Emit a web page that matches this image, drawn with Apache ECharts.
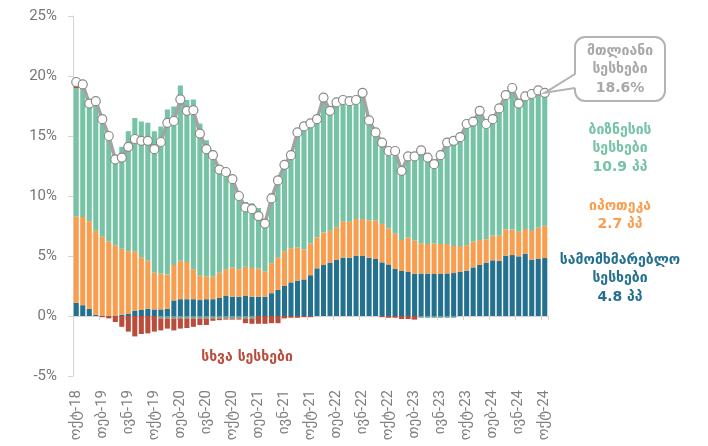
<!DOCTYPE html>
<html>
<head>
<meta charset="utf-8">
<script src="https://cdn.jsdelivr.net/npm/echarts@6/dist/echarts.min.js"></script>
<style>
  html, body { margin: 0; padding: 0; background: #fff; }
  #chart { width: 708px; height: 446px; }
</style>
</head>
<body>
<div id="chart"></div>
<script>
  // categories: oct-18 .. oct-24
  var months = [
    'ოქტ-18', 'ნოე-18', 'დეკ-18',
    'იან-19', 'თებ-19', 'მარ-19', 'აპრ-19', 'მაი-19', 'ივნ-19', 'ივლ-19', 'აგვ-19', 'სექ-19', 'ოქტ-19', 'ნოე-19', 'დეკ-19',
    'იან-20', 'თებ-20', 'მარ-20', 'აპრ-20', 'მაი-20', 'ივნ-20', 'ივლ-20', 'აგვ-20', 'სექ-20', 'ოქტ-20', 'ნოე-20', 'დეკ-20',
    'იან-21', 'თებ-21', 'მარ-21', 'აპრ-21', 'მაი-21', 'ივნ-21', 'ივლ-21', 'აგვ-21', 'სექ-21', 'ოქტ-21', 'ნოე-21', 'დეკ-21',
    'იან-22', 'თებ-22', 'მარ-22', 'აპრ-22', 'მაი-22', 'ივნ-22', 'ივლ-22', 'აგვ-22', 'სექ-22', 'ოქტ-22', 'ნოე-22', 'დეკ-22',
    'იან-23', 'თებ-23', 'მარ-23', 'აპრ-23', 'მაი-23', 'ივნ-23', 'ივლ-23', 'აგვ-23', 'სექ-23', 'ოქტ-23', 'ნოე-23', 'დეკ-23',
    'იან-24', 'თებ-24', 'მარ-24', 'აპრ-24', 'მაი-24', 'ივნ-24', 'ივლ-24', 'აგვ-24', 'სექ-24', 'ოქტ-24'
  ];

  // სამომხმარებლო სესხები
  var consumer = [
    1.1, 0.9, 0.6, 0.1, 0, 0, 0, 0.1, 0.2, 0.45, 0.5, 0.6, 0.55, 0.55, 0.6,
    1.3, 1.4, 1.4, 1.4, 1.33, 1.4, 1.4, 1.5, 1.67, 1.6, 1.6, 1.67,
    1.6, 1.6, 1.6, 1.9, 2.17, 2.5, 2.8, 2.95, 3.05, 3.4, 3.97, 4.25,
    4.45, 4.67, 4.86, 4.86, 5.03, 5.0, 4.86, 4.75, 4.47, 4.3, 3.92, 3.75,
    3.67, 3.53, 3.53, 3.53, 3.5, 3.5, 3.55, 3.58, 3.7, 3.78, 4.05, 4.25,
    4.45, 4.64, 4.6, 5.03, 5.08, 4.97, 5.2, 4.7, 4.75, 4.83
  ];
  // იპოთეკა
  var mortgage = [
    7.2, 7.35, 7.3, 7.0, 6.6, 6.2, 5.9, 5.5, 5.2, 4.95, 4.4, 4.0, 3.05, 3.0, 2.85,
    2.95, 3.2, 3.1, 2.5, 2.07, 1.9, 1.9, 2.1, 2.23, 2.45, 2.3, 2.43,
    2.4, 2.35, 2.1, 2.5, 2.68, 2.9, 2.85, 2.75, 2.5, 2.65, 2.58, 2.7,
    2.65, 2.73, 3.04, 2.99, 3.05, 3.08, 3.11, 3.22, 3.2, 3.0, 2.94, 2.58,
    2.86, 2.75, 2.52, 2.47, 2.55, 2.5, 2.45, 2.25, 2.13, 2.12, 2.15, 2.08,
    1.95, 2.06, 2.1, 2.19, 2.14, 2.06, 2.05, 2.38, 2.61, 2.7
  ];
  // ბიზნესის სესხები
  var business = [
    10.7, 10.65, 9.84, 10.76, 9.8, 8.95, 7.35, 8.5, 10.0, 11.1, 11.3, 11.5, 11.8, 12.25, 13.75,
    13.2, 14.6, 13.5, 14.15, 12.65, 11.35, 10.5, 8.85, 8.3, 7.45, 6.2, 5.4,
    5.4, 5.05, 4.4, 5.8, 6.75, 7.4, 7.95, 9.7, 10.35, 10.0, 9.85, 11.05,
    10.0, 10.4, 10.1, 10.05, 9.92, 10.52, 8.33, 7.33, 6.88, 6.6, 7.04, 6.02,
    7.02, 7.32, 7.75, 7.2, 6.6, 7.4, 8.45, 8.77, 9.07, 10.1, 10.0, 10.77,
    9.6, 9.7, 10.6, 11.18, 11.78, 10.67, 11.05, 11.42, 11.44, 10.9
  ];
  // მცირე უარყოფითი ნაწილი
  var minor = [
    0, 0, 0, 0, 0, 0, 0, 0, 0, 0, 0, 0, 0, -0.2, -0.2,
    -0.2, -0.2, -0.2, -0.2, -0.2, -0.2, -0.2, -0.2, -0.2, -0.2, -0.2, -0.2,
    -0.2, 0, 0, 0, 0, 0, 0, 0, 0, 0, 0, 0,
    0, 0, 0, 0, 0, 0, 0, 0, 0, 0, 0, 0,
    0, 0, -0.15, -0.15, -0.15, -0.15, -0.15, -0.15, 0, 0, 0, 0,
    0, 0, 0, 0, 0, 0, 0, 0, 0, 0
  ];
  // სხვა სესხები
  var other = [
    0.2, 0.15, 0, 0, -0.1, -0.2, -0.5, -0.9, -1.3, -1.7, -1.5, -1.45, -1.3, -1.0, -0.85,
    -1.0, -0.85, -0.8, -0.7, -0.55, -0.55, -0.2, -0.15, -0.1, -0.1, -0.1, -0.4,
    -0.45, -0.65, -0.65, -0.6, -0.6, -0.2, -0.15, -0.15, -0.1, -0.1, 0, 0,
    0, 0, 0, 0, 0, 0, 0, 0, -0.1, -0.15, -0.15, -0.25,
    -0.25, -0.3, 0, 0, 0, 0, 0, 0, 0, 0, 0, 0,
    0, 0, 0, 0, 0, 0, 0, 0, 0, 0
  ];
  // მთლიანი სესხები
  var total = [
    19.5, 19.3, 17.7, 17.9, 16.4, 15.0, 13.05, 13.2, 14.1, 14.75, 14.6, 14.6, 13.9, 14.5, 16.1,
    16.25, 18.05, 17.1, 17.15, 15.2, 13.9, 13.4, 12.2, 12.0, 11.4, 10.0, 9.05,
    8.9, 8.33, 7.7, 9.8, 11.3, 12.6, 13.4, 15.3, 15.8, 16.05, 16.4, 18.2,
    17.1, 17.8, 18.0, 17.9, 18.0, 18.6, 16.3, 15.3, 14.45, 13.75, 13.75, 12.1,
    13.3, 13.3, 13.8, 13.2, 12.65, 13.4, 14.45, 14.6, 14.9, 16.0, 16.2, 17.1,
    16.0, 16.4, 17.3, 18.4, 19.0, 17.7, 18.3, 18.5, 18.8, 18.6
  ];

  var colors = {
    consumer: '#23708f',
    mortgage: '#f99d4e',
    business: '#76c3a6',
    minor: '#6fa39a',
    other: '#b84c3d',
    total: '#a3a3a3'
  };

  var chart = echarts.init(document.getElementById('chart'));
  var last = total.length - 1;
  var geo = '"DejaVu Sans", "Noto Sans", sans-serif';

  function barSeries(name, data, color) {
    return {
      name: name,
      type: 'bar',
      stack: 'loans',
      xAxisIndex: 0,
      barCategoryGap: '22%',
      itemStyle: { color: color },
      data: data
    };
  }

  chart.setOption({
    animation: false,
    grid: { left: 73, right: 160, top: 16, bottom: 70 },
    xAxis: [
      {
        type: 'category',
        data: months,
        position: 'bottom',
        axisLine: { show: false, onZero: false },
        axisTick: { show: false },
        axisLabel: {
          interval: 3,
          rotate: 90,
          margin: 14,
          color: '#7f7f7f',
          fontSize: 15,
          fontFamily: 'Roboto, ' + geo
        }
      },
      {
        type: 'category',
        data: months,
        position: 'bottom',
        axisLine: { show: true, onZero: true, lineStyle: { color: '#d3d3d3', width: 1 } },
        axisTick: { show: true, interval: 3, length: 4, lineStyle: { color: '#d3d3d3' } },
        axisLabel: { show: false }
      }
    ],
    yAxis: {
      type: 'value',
      min: -5,
      max: 25,
      interval: 5,
      axisLine: { show: true, lineStyle: { color: '#d3d3d3' } },
      axisTick: { show: true, length: 5, lineStyle: { color: '#d3d3d3' } },
      splitLine: { show: false },
      axisLabel: {
        formatter: '{value}%',
        margin: 16,
        color: '#767676',
        fontSize: 15,
        fontFamily: 'Roboto, sans-serif'
      }
    },
    series: [
      barSeries('სამომხმარებლო სესხები', consumer, colors.consumer),
      barSeries('იპოთეკა', mortgage, colors.mortgage),
      barSeries('ბიზნესის სესხები', business, colors.business),
      barSeries('მცირე', minor, colors.minor),
      barSeries('სხვა სესხები', other, colors.other),
      {
        name: 'მთლიანი სესხები',
        type: 'line',
        xAxisIndex: 0,
        z: 10,
        symbol: 'circle',
        symbolSize: 9,
        showSymbol: true,
        showAllSymbol: true,
        lineStyle: { color: colors.total, width: 3.5 },
        itemStyle: { color: '#fff', borderColor: '#8a8a8a', borderWidth: 1.2 },
        data: total
      }
    ]
  });

  // callout + side labels
  var p = chart.convertToPixel({ xAxisIndex: 0, yAxisIndex: 0 }, [last, total[last]]);
  var bx = 575, by = 37, bw = 90, bh = 64;

  function label(x, y, text, color) {
    return {
      type: 'text',
      x: x,
      y: y,
      z: 20,
      style: {
        text: text,
        fill: color,
        font: 'bold 14px ' + geo,
        textAlign: 'center',
        textVerticalAlign: 'top',
        lineHeight: 18.5
      }
    };
  }

  chart.setOption({
    graphic: [
      {
        type: 'rect',
        z: 15,
        shape: { x: bx, y: by, width: bw, height: bh, r: 10 },
        style: { fill: '#fff', stroke: '#b3b3b3', lineWidth: 2 }
      },
      {
        type: 'polygon',
        z: 16,
        shape: { points: [[bx + 1.5, 74], p, [bx + 1.5, 88]] },
        style: { fill: '#fff' }
      },
      {
        type: 'polyline',
        z: 17,
        shape: { points: [[bx, 74], p, [bx, 88]] },
        style: { stroke: '#b3b3b3', lineWidth: 2, fill: null }
      },
      label(620, 42, 'მთლიანი\nსესხები\n' + total[last].toFixed(1) + '%', '#a8a8a8'),
      label(620, 121, 'ბიზნესის\nსესხები\n' + business[last].toFixed(1) + ' პპ', colors.business),
      label(620, 197, 'იპოთეკა\n' + mortgage[last].toFixed(1) + ' პპ', colors.mortgage),
      label(620, 251, 'სამომხმარებლო\nსესხები\n' + consumer[last].toFixed(1) + ' პპ', colors.consumer),
      label(247, 348, 'სხვა სესხები', colors.other)
    ]
  });
</script>
</body>
</html>
